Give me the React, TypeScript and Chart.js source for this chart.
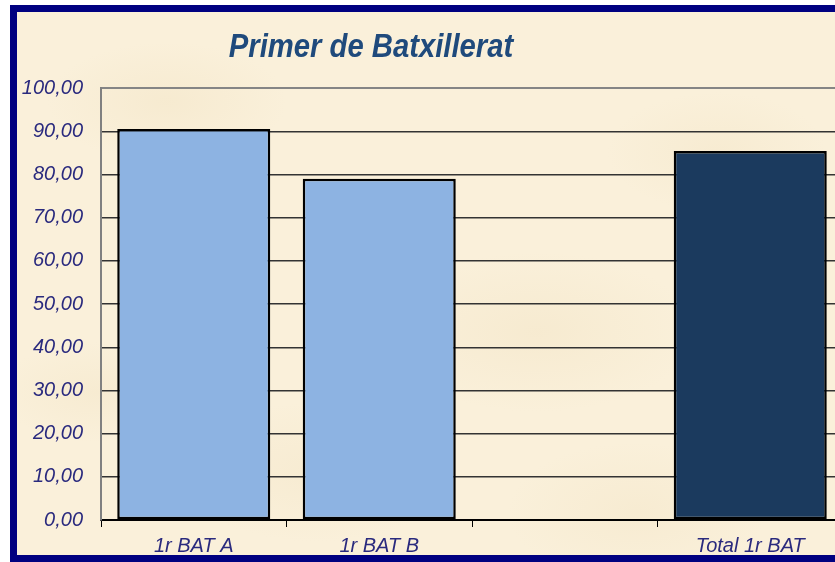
import React, { useEffect, useRef } from "react";
import { Chart, registerables } from "chart.js";

Chart.register(...registerables);

const titleText = "Primer de Batxillerat";
const categories = ["1r BAT A", "1r BAT B", "", "Total 1r BAT"];
const values = [90.5, 79.0, null, 85.4];
const barColors = ["#8DB3E2", "#8DB3E2", "#8DB3E2", "#1B3A5E"];
const yMin = 0;
const yMax = 100;
const yStep = 10;

const labelColor = "#2A2A7E";

const titlePlugin = {
  id: "sheetTitle",
  afterDraw(chart: any) {
    const ctx = chart.ctx;
    ctx.save();
    ctx.translate(371, 57);
    ctx.scale(0.86, 1);
    ctx.font = "italic bold 34px 'Liberation Sans', Arial, sans-serif";
    ctx.fillStyle = "#1F4A7C";
    ctx.textAlign = "center";
    ctx.textBaseline = "alphabetic";
    ctx.fillText(titleText, 0, 0);
    ctx.restore();
  },
};

export default function App() {
  const ref = useRef<HTMLCanvasElement | null>(null);

  useEffect(() => {
    if (!ref.current) return;
    const chart = new Chart(ref.current, {
      type: "bar",
      data: {
        labels: categories,
        datasets: [
          {
            data: values as any,
            backgroundColor: barColors,
            borderColor: "#000000",
            borderWidth: 2.5,
            borderSkipped: false,
            categoryPercentage: 1,
            barPercentage: 0.825,
          },
        ],
      },
      options: {
        animation: false,
        responsive: false,
        devicePixelRatio: 1,
        layout: { padding: { left: 0, top: 88, right: 7, bottom: 0 } },
        plugins: {
          legend: { display: false },
          title: { display: false },
          tooltip: { enabled: false },
        },
        scales: {
          x: {
            grid: {
              display: true,
              drawOnChartArea: false,
              drawTicks: true,
              tickLength: 7,
              color: "#000000",
              lineWidth: 1,
              offset: true,
            },
            border: { display: true, color: "#000000", width: 2 },
            ticks: {
              color: labelColor,
              padding: 7,
              maxRotation: 0,
              autoSkip: false,
              font: { family: "'Liberation Sans', Arial, sans-serif", size: 20, style: "italic" },
            },
            afterFit(scale: any) {
              scale.height = 42;
            },
          },
          y: {
            min: yMin,
            max: yMax,
            ticks: {
              stepSize: yStep,
              color: labelColor,
              padding: 18,
              font: { family: "'Liberation Sans', Arial, sans-serif", size: 20, style: "italic" },
              callback: (v: any) => Number(v).toFixed(2).replace(".", ","),
            },
            grid: {
              drawTicks: false,
              color: (c: any) => (c.tick && c.tick.value === yMax ? "#858585" : "#333333"),
              lineWidth: (c: any) => (c.tick && c.tick.value === yMax ? 2 : 1.4),
            },
            border: { display: true, color: "#808080", width: 2 },
            afterFit(scale: any) {
              scale.width = 101;
            },
          },
        },
      },
      plugins: [titlePlugin],
    });
    return () => chart.destroy();
  }, []);

  const parchment =
    "radial-gradient(ellipse 120px 60px at 150px 90px, rgba(240,224,190,0.35), rgba(240,224,190,0) 100%)," +
    "radial-gradient(ellipse 160px 80px at 520px 320px, rgba(240,224,190,0.35), rgba(240,224,190,0) 100%)," +
    "radial-gradient(ellipse 140px 70px at 300px 460px, rgba(240,224,190,0.3), rgba(240,224,190,0) 100%)," +
    "radial-gradient(ellipse 110px 60px at 700px 140px, rgba(240,224,190,0.3), rgba(240,224,190,0) 100%)," +
    "radial-gradient(ellipse 100px 50px at 80px 380px, rgba(240,224,190,0.3), rgba(240,224,190,0) 100%)," +
    "radial-gradient(ellipse 130px 70px at 620px 500px, rgba(240,224,190,0.3), rgba(240,224,190,0) 100%)," +
    "#FAF0DA";

  return (
    <div
      style={{
        position: "absolute",
        left: 0,
        top: 0,
        width: 835,
        height: 562,
        overflow: "hidden",
        background: "#ffffff",
      }}
    >
      <div
        style={{
          position: "absolute",
          left: 10,
          top: 5,
          width: 900,
          height: 557,
          boxSizing: "border-box",
          borderLeft: "7px solid #000080",
          borderTop: "7px solid #000080",
          borderBottom: "7px solid #000080",
          background: parchment,
        }}
      />
      <canvas
        ref={ref}
        width={850}
        height={562}
        style={{ position: "absolute", left: 0, top: 0, width: 850, height: 562 }}
      />
    </div>
  );
}
